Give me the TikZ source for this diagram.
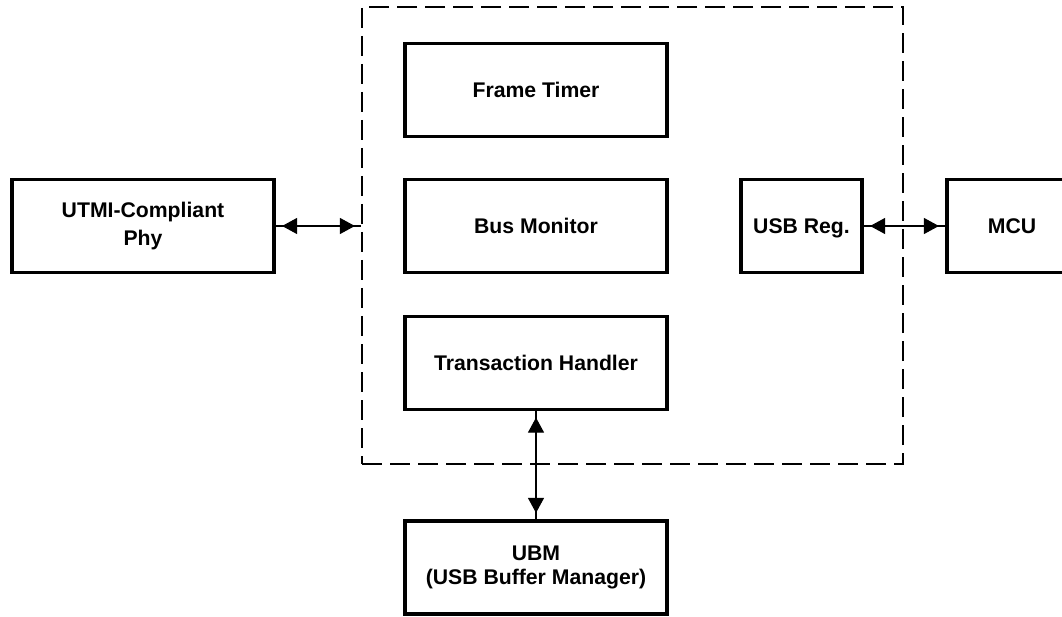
\documentclass[tikz,border=0pt]{standalone}
\usepackage{fontspec}
\setmainfont{Liberation Sans}
\usetikzlibrary{arrows.meta}

\begin{document}
\begin{tikzpicture}[
    x=1pt, y=-1pt,
    block/.style={draw, line width=3.2pt, minimum width=262pt, minimum height=93pt, inner sep=0pt, align=center, font=\fontsize{21.2}{24.5}\selectfont\bfseries},
    core/.style={draw, dash pattern=on 20pt off 8pt, line width=1.2pt, minimum width=541pt, minimum height=457pt},
    link/.style={line width=1.1pt},
    bothway/.style={{Triangle[length=15pt,width=16pt]}-{Triangle[length=15pt,width=16pt]}, line width=1.1pt, shorten >=6.5pt, shorten <=6.5pt}
]
\useasboundingbox (0,0) rectangle (1062,617);

% Controller core (dashed)
\node[core] (core) at (632.5,235.5) {};

% Inside the core
\node[block] (frame) at (536,90) {Frame Timer};
\node[block] (busmon) at (536,226) {Bus Monitor};
\node[block] (trans) at (536,363) {Transaction Handler};
\node[block, minimum width=121pt, text depth=0pt] (usbreg) at (801.5,226) {USB Reg.};

% Outside the core
\node[block] (utmi) at (143,226) {UTMI-Compliant\\[3pt]Phy};
\node[block, minimum width=130pt] (mcu) at (1012,226) {MCU};
\node[block] (ubm) at (536,567.5) {UBM\\(USB Buffer Manager)};

% Connections
\draw[link] (utmi.east) -- (core.west |- utmi.east);
\draw[bothway] (utmi.east) -- (core.west |- utmi.east);

\draw[link] (usbreg.east) -- (mcu.west);
\draw[bothway] (usbreg.east) -- (mcu.west);

\draw[link] (trans.south) -- (ubm.north);
\draw[bothway] (trans.south) -- (ubm.north);

\end{tikzpicture}
\end{document}
